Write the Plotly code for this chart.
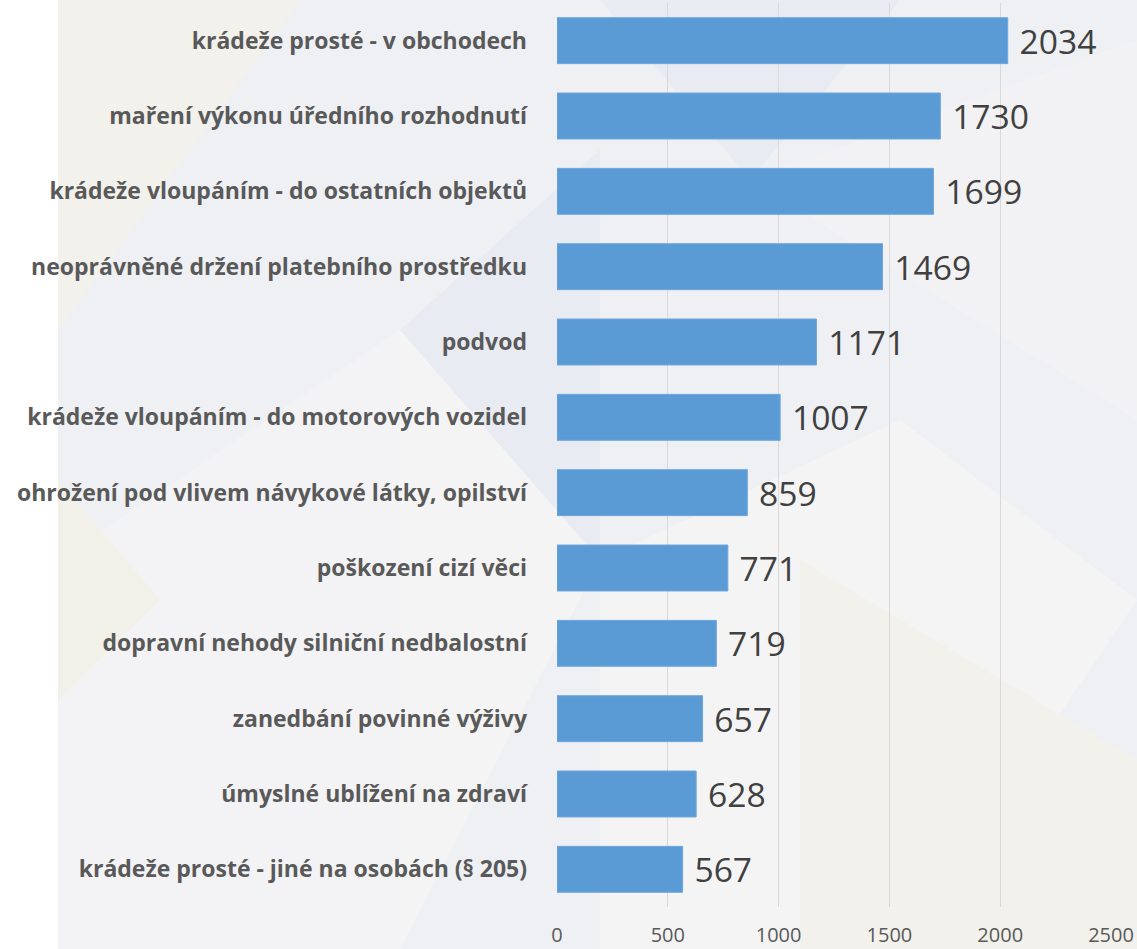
import plotly.graph_objects as go

categories = [
    "krádeže prosté - v obchodech",
    "maření výkonu úředního rozhodnutí",
    "krádeže vloupáním - do ostatních objektů",
    "neoprávněné držení platebního prostředku",
    "podvod",
    "krádeže vloupáním - do motorových vozidel",
    "ohrožení pod vlivem návykové látky, opilství",
    "poškození cizí věci",
    "dopravní nehody silniční nedbalostní",
    "zanedbání povinné výživy",
    "úmyslné ublížení na zdraví",
    "krádeže prosté - jiné na osobách (§ 205)",
]
values = [2034, 1730, 1699, 1469, 1171, 1007, 859, 771, 719, 657, 628, 567]
x_ticks = [0, 500, 1000, 1500, 2000, 2500]

W, H = 1137, 949
L, R, T, B = 557, 26, 3, 42
PW, PH = W - L - R, H - T - B


def px(x, y):
    return (x - L) / PW, (H - B - y) / PH


def tri(points, color):
    pts = [px(x, y) for x, y in points]
    d = "M " + " L ".join(f"{a:.4f},{b:.4f}" for a, b in pts) + " Z"
    return dict(type="path", path=d, xref="paper", yref="paper",
                fillcolor=color, line=dict(width=0), layer="below")


shapes = []
x0, y0 = px(58, 0)
x1, y1 = px(W, H)
shapes.append(dict(type="rect", xref="paper", yref="paper", x0=x0, y0=y1, x1=x1, y1=y0,
                   fillcolor="#EEF0F4", line=dict(width=0), layer="below"))
shapes += [
    tri([(58, 0), (300, 0), (58, 330)], "#F2F1EB"),
    tri([(58, 560), (400, 330), (400, 949), (58, 949)], "#F3F3F5"),
    tri([(400, 330), (600, 560), (400, 949)], "#F4F4F5"),
    tri([(600, 0), (900, 0), (750, 180)], "#E9EBF2"),
    tri([(750, 180), (1137, 40), (1137, 420)], "#F2F2F4"),
    tri([(900, 420), (1137, 600), (900, 949)], "#F4F4F5"),
    tri([(600, 560), (900, 420), (900, 949), (600, 949)], "#F4F4F5"),
    tri([(400, 330), (600, 150), (600, 560)], "#E9EBF2"),
    tri([(800, 560), (1137, 760), (1137, 949), (800, 949)], "#F2F1EC"),
    tri([(160, 600), (58, 700), (58, 480)], "#F1F0E9"),
]

fig = go.Figure()
fig.add_trace(go.Bar(
    y=categories,
    x=values,
    orientation="h",
    marker=dict(color="#5B9BD5", line=dict(color="#6FA7DB", width=1)),
    text=values,
    texttemplate="\u00a0%{x}",
    textposition="outside",
    cliponaxis=False,
    textfont=dict(family="Open Sans", size=41, color="#404040"),
    hoverinfo="skip",
))

fig.update_layout(
    width=W, height=H,
    margin=dict(l=L, r=R, t=T, b=B, pad=0, autoexpand=False),
    paper_bgcolor="white",
    plot_bgcolor="rgba(0,0,0,0)",
    bargap=0.39,
    showlegend=False,
    shapes=shapes,
    xaxis=dict(
        range=[0, 2500],
        tickvals=x_ticks,
        ticktext=[str(v) for v in x_ticks],
        showgrid=True,
        gridcolor="#D9D9D9",
        gridwidth=1,
        zeroline=False,
        showline=False,
        tickfont=dict(family="Open Sans", size=20, color="#595959"),
        ticklabelstandoff=14,
    ),
    yaxis=dict(
        categoryorder="array",
        categoryarray=categories[::-1],
        showgrid=False,
        showline=False,
        zeroline=False,
        tickfont=dict(family="Open Sans", size=23, color="#595959", weight="bold"),
        ticklabelstandoff=29,
    ),
)

fig.write_html(
    "out.html",
    config={"displayModeBar": False},
    post_script="document.body.style.margin='0';document.body.style.overflow='hidden';",
)
